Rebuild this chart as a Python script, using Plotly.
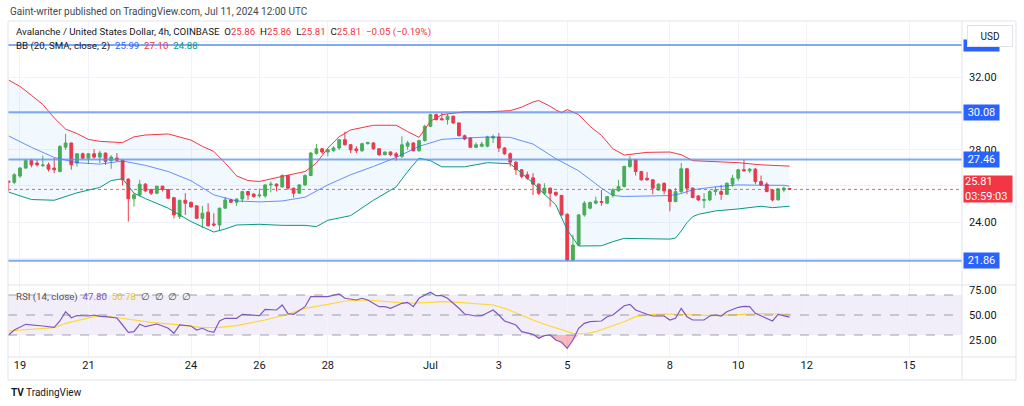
import pandas as pd
import plotly.graph_objects as go

# ---------------- data ----------------
opens = [26.27, 26.20, 26.55, 26.99, 27.40, 27.27, 27.13, 27.17, 26.99, 26.80,
         28.15, 28.38, 27.27, 27.78, 27.54, 27.78, 27.60, 27.82, 27.40, 27.55,
         27.42, 26.38, 25.29, 25.50, 26.10, 25.80, 25.60, 25.99, 25.80, 25.35,
         24.30, 25.21, 25.10, 24.90, 24.21, 24.55, 23.90, 23.84, 24.77, 25.23,
         25.10, 25.28, 25.69, 25.55, 25.45, 25.45, 26.06, 26.10, 25.95, 26.58,
         25.88, 25.60, 26.06, 26.58, 27.80, 28.06, 27.88, 27.95, 28.10, 28.56,
         28.28, 28.05, 27.95, 28.34, 28.38, 28.06, 27.73, 27.88, 27.78, 27.64,
         28.20, 28.38, 27.95, 28.51, 29.30, 29.95, 29.72, 29.67, 29.86, 29.49,
         28.78, 28.65, 28.14, 28.20, 28.20, 28.65, 28.71, 28.10, 27.78, 27.32,
         26.90, 26.62, 26.45, 26.10, 25.60, 25.88, 25.65, 25.48, 24.43, 21.90,
         22.73, 24.40, 24.77, 25.05, 25.14, 25.05, 25.50, 25.73, 25.97, 27.08,
         27.45, 26.80, 26.43, 26.34, 25.78, 26.15, 25.78, 25.14, 25.69, 26.95,
         25.88, 25.45, 25.20, 25.23, 25.69, 25.69, 25.54, 26.10, 26.43, 26.90,
         26.84, 26.93, 26.25, 26.10, 25.78, 25.23, 25.78, 25.86]
highs = [26.30, 26.71, 27.05, 27.46, 27.50, 27.45, 27.68, 27.30, 27.55, 28.25,
         28.88, 28.40, 27.82, 27.85, 27.82, 28.04, 27.95, 27.86, 27.70, 27.82,
         27.46, 26.43, 25.60, 26.34, 26.16, 25.85, 26.00, 26.00, 25.84, 25.40,
         25.23, 25.60, 25.12, 24.92, 24.90, 25.05, 24.49, 24.80, 25.40, 25.30,
         25.30, 25.73, 25.73, 25.60, 25.85, 26.10, 26.25, 26.15, 26.65, 26.62,
         25.90, 26.10, 26.65, 27.88, 28.32, 28.10, 28.06, 28.20, 28.60, 29.00,
         28.32, 28.20, 28.40, 28.45, 28.42, 28.10, 27.90, 27.92, 27.88, 28.75,
         28.50, 28.42, 28.56, 29.40, 30.00, 30.00, 30.04, 29.99, 29.90, 29.52,
         28.84, 28.69, 28.41, 28.45, 28.78, 28.84, 28.93, 28.14, 27.86, 27.36,
         26.93, 26.80, 26.71, 26.15, 26.15, 25.92, 25.69, 25.50, 24.49, 23.29,
         24.43, 25.17, 25.14, 25.41, 25.78, 25.45, 25.88, 26.34, 27.13, 27.64,
         27.49, 26.84, 26.77, 26.38, 26.15, 26.20, 25.82, 25.88, 27.27, 27.00,
         25.92, 25.50, 25.60, 25.78, 25.97, 26.06, 26.20, 26.62, 26.93, 27.45,
         27.00, 26.99, 26.58, 26.20, 25.82, 25.88, 25.97, 25.86]
lows = [25.70, 26.10, 26.45, 26.95, 27.03, 27.08, 27.05, 26.80, 26.71, 26.75,
        28.00, 26.90, 27.08, 27.49, 27.23, 27.50, 27.27, 27.17, 26.95, 27.36,
        26.03, 24.03, 24.86, 25.42, 25.66, 25.50, 25.55, 25.70, 25.30, 24.20,
        24.18, 24.40, 24.80, 24.18, 23.66, 23.75, 23.75, 23.56, 24.75, 25.05,
        24.90, 25.10, 25.23, 25.35, 25.35, 25.35, 25.65, 25.70, 25.90, 25.78,
        25.36, 25.56, 26.00, 26.54, 27.73, 27.77, 27.64, 27.90, 28.00, 28.25,
        27.82, 27.82, 27.88, 28.30, 28.00, 27.65, 27.70, 27.65, 27.40, 27.55,
        28.00, 27.90, 27.90, 28.45, 29.25, 29.63, 29.63, 29.40, 29.43, 28.75,
        28.54, 28.10, 28.10, 28.14, 28.14, 28.38, 27.88, 27.73, 27.08, 26.62,
        26.43, 26.34, 25.50, 25.50, 25.50, 24.86, 25.42, 24.36, 21.84, 21.86,
        22.70, 24.30, 24.71, 24.99, 24.90, 24.99, 25.36, 25.69, 25.92, 27.00,
        26.58, 26.29, 26.29, 25.54, 25.73, 25.54, 24.60, 25.10, 25.60, 25.54,
        25.32, 25.17, 24.77, 25.17, 25.47, 25.23, 25.50, 25.97, 26.29, 26.80,
        26.71, 26.10, 26.00, 25.65, 25.14, 25.20, 25.65, 25.81]
closes = [26.20, 26.62, 26.99, 27.40, 27.17, 27.17, 27.16, 26.93, 26.90, 28.19,
          28.38, 27.17, 27.78, 27.54, 27.78, 27.60, 27.82, 27.36, 27.60, 27.42,
          26.34, 25.29, 25.51, 26.10, 25.73, 25.60, 25.99, 25.80, 25.32, 24.40,
          25.21, 25.05, 24.84, 24.21, 24.49, 23.80, 23.84, 24.77, 25.23, 25.10,
          25.28, 25.69, 25.50, 25.42, 25.50, 26.06, 26.10, 26.00, 26.58, 25.88,
          25.60, 26.06, 26.58, 27.82, 28.06, 27.88, 28.00, 28.10, 28.56, 28.28,
          28.00, 27.95, 28.34, 28.40, 28.06, 27.73, 27.88, 27.73, 27.64, 28.28,
          28.38, 27.95, 28.51, 29.30, 29.95, 29.67, 29.67, 29.86, 29.49, 28.78,
          28.60, 28.14, 28.28, 28.32, 28.71, 28.73, 28.10, 27.78, 27.32, 26.90,
          26.53, 26.43, 26.10, 25.60, 25.88, 25.60, 25.50, 24.40, 21.90, 22.73,
          24.40, 25.05, 25.08, 25.17, 25.10, 25.41, 25.78, 25.97, 27.08, 27.45,
          26.80, 26.34, 26.34, 25.88, 26.10, 25.73, 25.14, 25.69, 26.95, 25.88,
          25.36, 25.23, 25.25, 25.69, 25.78, 25.54, 26.15, 26.43, 26.90, 26.84,
          26.93, 26.25, 26.06, 25.69, 25.23, 25.84, 25.88, 25.81]

# Bollinger Bands (20, SMA, close, 2) read at candle indices
bb_upper_idx = [0, 2, 4, 6, 8, 10, 12, 14, 16, 20, 22, 24, 28, 30, 32, 34, 36, 38, 40, 42,
                44, 48, 52, 54, 56, 58, 60, 64, 68, 70, 72, 74, 76, 80, 84, 88, 90, 92, 93, 95,
                96, 97, 98, 100, 102, 104, 106, 108, 112, 116, 118, 120, 124, 128, 132, 136, 137]
bb_upper = [31.86, 31.51, 31.02, 30.51, 29.77, 29.15, 28.90, 28.58, 28.47, 28.40, 28.72, 28.82,
            28.88, 28.69, 28.54, 28.19, 27.91, 27.27, 26.56, 26.30, 26.25, 26.53, 26.80, 27.27,
            28.10, 28.73, 29.10, 29.36, 29.36, 29.01, 28.69, 29.58, 29.95, 30.10, 30.10, 30.17,
            30.36, 30.65, 30.73, 30.41, 30.21, 30.06, 30.23, 29.95, 29.30, 28.80, 28.06, 27.71,
            27.86, 27.88, 27.73, 27.40, 27.34, 27.29, 27.17, 27.14, 27.10]
bb_basis_idx = [0, 4, 8, 12, 16, 20, 24, 28, 32, 36, 40, 44, 48, 52, 56, 60, 64, 68, 72, 76,
                80, 84, 88, 92, 96, 100, 104, 106, 108, 112, 116, 118, 120, 124, 128, 132, 136, 137]
bb_basis = [28.77, 28.14, 27.58, 27.29, 27.21, 27.38, 27.14, 26.80, 26.29, 25.51, 25.17, 25.12,
            25.17, 25.38, 26.06, 26.62, 27.08, 27.58, 28.19, 28.58, 28.65, 28.71, 28.69, 28.32,
            27.51, 26.84, 25.88, 25.47, 25.42, 25.43, 25.47, 25.58, 25.79, 25.95, 26.06, 26.04,
            26.04, 25.99]
bb_lower_idx = [0, 4, 8, 12, 16, 18, 20, 22, 24, 28, 32, 36, 38, 40, 44, 48, 52, 54, 56, 60,
                64, 68, 70, 72, 74, 76, 80, 84, 88, 90, 92, 94, 96, 98, 100, 104, 106, 108, 112, 116,
                117, 118, 119, 120, 121, 124, 128, 132, 134, 136, 137]
bb_lower = [25.66, 25.25, 25.21, 25.62, 25.92, 26.30, 26.40, 25.60, 25.30, 24.77, 24.03, 23.45,
            23.62, 23.84, 23.88, 23.82, 23.82, 23.75, 24.10, 24.36, 25.21, 25.95, 26.80, 27.54,
            27.40, 27.06, 27.06, 27.29, 27.23, 26.71, 26.17, 25.55, 24.95, 23.56, 22.68, 22.69,
            22.92, 23.10, 23.08, 23.06, 23.12, 23.51, 23.97, 24.30, 24.43, 24.62, 24.73, 24.88,
            24.80, 24.88, 24.88]

# RSI (14, close) and its SMA
rsi_idx = [0, 1, 3, 5, 6, 8, 9, 10, 11, 12, 13, 14, 15, 16, 17, 18, 19, 20, 21, 22, 23, 24, 26,
           27, 28, 29, 30, 32, 33, 34, 35, 36, 37, 38, 40, 41, 42, 44, 45, 46, 47, 48, 49, 50, 52,
           53, 55, 56, 58, 59, 61, 62, 63, 65, 66, 67, 69, 70, 71, 72, 74, 75, 76, 77, 79, 80, 82,
           83, 85, 86, 87, 89, 90, 91, 92, 93, 94, 95, 96, 97, 98, 99, 100, 101, 102, 104, 105,
           106, 108, 109, 110, 112, 113, 115, 116, 117, 118, 119, 120, 122, 123, 124, 125, 126,
           128, 129, 130, 131, 132, 134, 135, 136, 137]
rsi_vals = [30.0, 35.0, 40.7, 40.0, 39.0, 37.7, 44.0, 53.3, 47.3, 49.5, 49.0, 49.0, 50.0, 48.7,
            48.3, 47.3, 47.0, 40.0, 32.7, 33.3, 40.7, 38.3, 41.0, 39.0, 36.7, 31.7, 40.0, 39.0,
            35.0, 36.7, 34.0, 32.7, 44.0, 46.7, 46.7, 50.7, 50.0, 49.3, 55.7, 55.7, 55.0, 60.0,
            51.3, 50.7, 58.3, 68.3, 68.3, 68.3, 71.0, 66.7, 65.0, 66.7, 65.0, 58.3, 58.3, 56.7,
            61.7, 62.7, 58.3, 66.7, 72.7, 69.3, 69.3, 66.7, 56.7, 51.0, 49.0, 49.3, 55.0, 50.0,
            44.0, 40.0, 33.3, 31.7, 30.7, 26.7, 29.3, 30.0, 25.0, 22.7, 16.7, 25.0, 36.7, 41.7,
            43.3, 44.0, 48.3, 50.0, 59.3, 60.7, 55.0, 50.7, 49.0, 49.0, 45.0, 46.7, 56.7, 48.3,
            45.0, 45.0, 49.0, 50.0, 49.0, 53.3, 57.7, 58.7, 58.3, 51.7, 49.0, 44.0, 50.7, 49.0,
            47.8]
rsima_idx = [0, 3, 6, 8, 10, 13, 15, 17, 19, 22, 25, 29, 32, 34, 37, 40, 42, 45, 49, 52, 56, 59,
             63, 67, 70, 74, 76, 79, 82, 85, 87, 89, 92, 94, 97, 99, 101, 103, 105, 108, 110, 113,
             116, 119, 121, 124, 127, 129, 132, 135, 137]
rsima_vals = [34.0, 35.0, 36.0, 37.3, 41.7, 46.0, 48.3, 49.0, 47.3, 45.0, 42.7, 40.7, 38.3, 37.3,
              37.7, 39.3, 41.7, 45.0, 50.7, 56.7, 60.7, 64.0, 65.0, 63.3, 61.7, 62.7, 63.3, 62.7,
              61.7, 60.0, 56.7, 51.7, 45.0, 40.7, 35.0, 31.7, 31.0, 33.3, 37.3, 43.3, 48.3, 50.7,
              51.0, 50.7, 50.0, 49.3, 50.0, 51.0, 51.3, 51.0, 50.78]

levels = [33.80, 30.08, 27.46, 21.86]
level_labels = ["", "30.08", "27.46", "21.86"]
last_price = 25.81
countdown = "03:59:03"

price_ticks = [22, 24, 26, 28, 30, 32, 34]
price_ticktext = ["", "24.00", "", "28.00", "", "32.00", ""]
rsi_ticks = [25, 50, 75]
x_tickvals = ["2024-06-19", "2024-06-21", "2024-06-24", "2024-06-26", "2024-06-28", "2024-07-01",
              "2024-07-03", "2024-07-05", "2024-07-08", "2024-07-10", "2024-07-12", "2024-07-15"]
x_ticktext = ["19", "21", "24", "26", "28", "Jul", "3", "5", "8", "10", "12", "15"]

# ---------------- styling ----------------
UP = "#4caf50"
DOWN = "#f23645"
BLUE = "#2962ff"
TEAL = "#089981"
PURPLE = "#7e57c2"
YELLOW = "#fdd835"
TXT = "#131722"
GRID = "#f0f3fa"
BORDER = "#e0e3eb"
FONT = "Roboto"

times = pd.date_range("2024-06-18 16:00", periods=len(closes), freq="4h")

def at(idx):
    return [times[i] for i in idx]

fig = go.Figure()

# Bollinger band fill + lines
fig.add_trace(go.Scatter(x=at(bb_upper_idx), y=bb_upper, mode="lines",
                         line=dict(color=DOWN, width=1), opacity=0.65, hoverinfo="skip"))
fig.add_trace(go.Scatter(x=at(bb_lower_idx), y=bb_lower, mode="lines",
                         line=dict(color=TEAL, width=1), fill="tonexty",
                         fillcolor="rgba(33,150,243,0.06)", opacity=0.65, hoverinfo="skip"))
fig.add_trace(go.Scatter(x=at(bb_basis_idx), y=bb_basis, mode="lines",
                         line=dict(color=BLUE, width=1), opacity=0.7, hoverinfo="skip"))

# candles
fig.add_trace(go.Candlestick(x=times, open=opens, high=highs, low=lows, close=closes,
                             increasing=dict(line=dict(color=UP, width=1), fillcolor=UP),
                             decreasing=dict(line=dict(color=DOWN, width=1), fillcolor=DOWN),
                             whiskerwidth=0, hoverinfo="skip"))

# RSI oversold / overbought fills
rsi_x = at(rsi_idx)
fig.add_trace(go.Scatter(x=rsi_x, y=[30] * len(rsi_vals), mode="lines", line=dict(width=0),
                         yaxis="y2", hoverinfo="skip"))
fig.add_trace(go.Scatter(x=rsi_x, y=[min(v, 30) for v in rsi_vals], mode="lines",
                         line=dict(width=0), fill="tonexty", fillcolor="rgba(242,54,69,0.35)",
                         yaxis="y2", hoverinfo="skip"))
fig.add_trace(go.Scatter(x=rsi_x, y=[70] * len(rsi_vals), mode="lines", line=dict(width=0),
                         yaxis="y2", hoverinfo="skip"))
fig.add_trace(go.Scatter(x=rsi_x, y=[max(v, 70) for v in rsi_vals], mode="lines",
                         line=dict(width=0), fill="tonexty", fillcolor="rgba(8,153,129,0.25)",
                         yaxis="y2", hoverinfo="skip"))
# RSI lines
fig.add_trace(go.Scatter(x=at(rsima_idx), y=rsima_vals, mode="lines",
                         line=dict(color=YELLOW, width=1.2), yaxis="y2", hoverinfo="skip"))
fig.add_trace(go.Scatter(x=rsi_x, y=rsi_vals, mode="lines",
                         line=dict(color=PURPLE, width=1.2), yaxis="y2", hoverinfo="skip"))

# pixel helpers for paper coordinates (plot area: x 8..962, y 21..357)
L, R, T, B = 8, 62, 21, 49
W, H = 1024, 406
PW, PH = W - L - R, H - T - B
def px(xp):
    return (xp - L) / PW
def py(yp):
    return (H - B - yp) / PH

split = py(285)

shapes = []
# RSI 30-70 band & dashed levels
shapes.append(dict(type="rect", xref="paper", yref="y2", x0=0, x1=1, y0=30, y1=70,
                   fillcolor="rgba(126,87,194,0.10)", line=dict(width=0), layer="below"))
for lv in [70, 50, 30]:
    shapes.append(dict(type="line", xref="paper", yref="y2", x0=0, x1=1, y0=lv, y1=lv,
                       line=dict(color="#787b86", width=1, dash="dash"), opacity=0.7))
# horizontal levels
for lv in levels:
    shapes.append(dict(type="line", xref="paper", yref="y", x0=0, x1=1, y0=lv, y1=lv,
                       line=dict(color="#5b8def", width=2), opacity=0.75))
# last price dotted line
shapes.append(dict(type="line", xref="paper", yref="y", x0=0, x1=1, y0=last_price, y1=last_price,
                   line=dict(color=DOWN, width=1, dash="dot"), opacity=0.8))
# frame and separators
shapes.append(dict(type="rect", xref="paper", yref="paper", x0=0, x1=px(1016), y0=py(380), y1=1,
                   line=dict(color=BORDER, width=1)))
shapes.append(dict(type="line", xref="paper", yref="paper", x0=0, x1=px(1016), y0=split, y1=split,
                   line=dict(color=BORDER, width=1)))
shapes.append(dict(type="line", xref="paper", yref="paper", x0=1, x1=1, y0=py(380), y1=1,
                   line=dict(color=BORDER, width=1)))
shapes.append(dict(type="line", xref="paper", yref="paper", x0=0, x1=px(1016), y0=0, y1=0,
                   line=dict(color=BORDER, width=1)))

ann = []
ann.append(dict(xref="paper", yref="paper", x=px(8), y=py(11), xanchor="left", yanchor="middle",
                showarrow=False, text="Gaint-writer published on TradingView.com, Jul 11, 2024 12:00 UTC",
                font=dict(family=FONT, size=10, color="#434651")))
red = DOWN
l1 = ("Avalanche / United States Dollar, 4h, COINBASE&nbsp;&nbsp;"
      f"O<span style='color:{red}'>25.86</span>&nbsp;&nbsp;H<span style='color:{red}'>25.86</span>&nbsp;&nbsp;"
      f"L<span style='color:{red}'>25.81</span>&nbsp;&nbsp;C<span style='color:{red}'>25.81</span>&nbsp;&nbsp;"
      f"<span style='color:{red}'>−0.05 (−0.19%)</span>")
ann.append(dict(xref="paper", yref="paper", x=px(14), y=py(32), xanchor="left", yanchor="middle",
                showarrow=False, text=l1, font=dict(family=FONT, size=9.7, color=TXT)))
l2 = (f"BB (20, SMA, close, 2)&nbsp;&nbsp;<span style='color:{BLUE}'>25.99</span>&nbsp;&nbsp;"
      f"<span style='color:{red}'>27.10</span>&nbsp;&nbsp;<span style='color:{TEAL}'>24.88</span>")
ann.append(dict(xref="paper", yref="paper", x=px(14), y=py(46), xanchor="left", yanchor="middle",
                showarrow=False, text=l2, font=dict(family=FONT, size=9.7, color=TXT)))
l3 = (f"RSI (14, close)&nbsp;&nbsp;<span style='color:{PURPLE}'>47.80</span>&nbsp;&nbsp;"
      f"<span style='color:#e6c619'>50.78</span>&nbsp;&nbsp;∅&nbsp;&nbsp;∅&nbsp;&nbsp;∅&nbsp;&nbsp;∅")
ann.append(dict(xref="paper", yref="paper", x=px(14), y=py(297), xanchor="left", yanchor="middle",
                showarrow=False, text=l3, font=dict(family=FONT, size=9.7, color="#50535e")))
# level labels on price scale
for lv, lab in zip(levels, level_labels):
    ann.append(dict(xref="paper", yref="y", x=1, y=lv, xanchor="left", yanchor="middle", xshift=1,
                    showarrow=False, text=lab if lab else " ", bgcolor=BLUE, width=33,
                    height=13 if lab else 9, font=dict(family=FONT, size=11, color="white")))
ann.append(dict(xref="paper", yref="y", x=1, y=last_price, xanchor="left", yanchor="middle", xshift=1,
                showarrow=False, text=f"{last_price:.2f}<br>{countdown}", bgcolor=DOWN, width=46,
                height=24, align="left", font=dict(family=FONT, size=11, color="white")))
# USD button
ann.append(dict(xref="paper", yref="paper", x=px(990), y=py(36), xanchor="center", yanchor="middle",
                showarrow=False, text="USD", bgcolor="white", bordercolor=BORDER, borderwidth=1,
                width=42, height=18, font=dict(family=FONT, size=10, color=TXT)))
# footer
ann.append(dict(xref="paper", yref="paper", x=px(9), y=py(392), xanchor="left", yanchor="middle",
                showarrow=False, text="<b>TV</b> TradingView",
                font=dict(family=FONT, size=10, color=TXT)))

fig.update_layout(
    width=W, height=H, margin=dict(l=L, r=R, t=T, b=B),
    paper_bgcolor="white", plot_bgcolor="white", showlegend=False,
    font=dict(family=FONT, size=11, color=TXT),
    xaxis=dict(domain=[0, 1], anchor="y2", type="date",
               range=["2024-06-18 15:35", "2024-07-16 13:00"],
               tickvals=x_tickvals, ticktext=x_ticktext, showgrid=True, gridcolor=GRID,
               zeroline=False, showline=False, ticks="", rangeslider=dict(visible=False),
               tickfont=dict(size=11, color=TXT)),
    yaxis=dict(domain=[split, 1], anchor="x", side="right", range=[20.52, 35.13],
               tickvals=price_ticks, ticktext=price_ticktext,
               showgrid=True, gridcolor=GRID, zeroline=False, ticks="", ticklabelstandoff=6,
               tickfont=dict(size=11, color=TXT)),
    yaxis2=dict(domain=[0, split], anchor="x", side="right", range=[8, 80],
                tickvals=rsi_ticks, ticktext=[f"{v:.2f}" for v in rsi_ticks],
                showgrid=False, zeroline=False, ticks="", ticklabelstandoff=6,
                tickfont=dict(size=11, color=TXT)),
    shapes=shapes, annotations=ann,
)

fig.write_html("out.html", config={"displayModeBar": False},
               post_script="document.body.style.margin='0';document.body.style.overflow='hidden';")
